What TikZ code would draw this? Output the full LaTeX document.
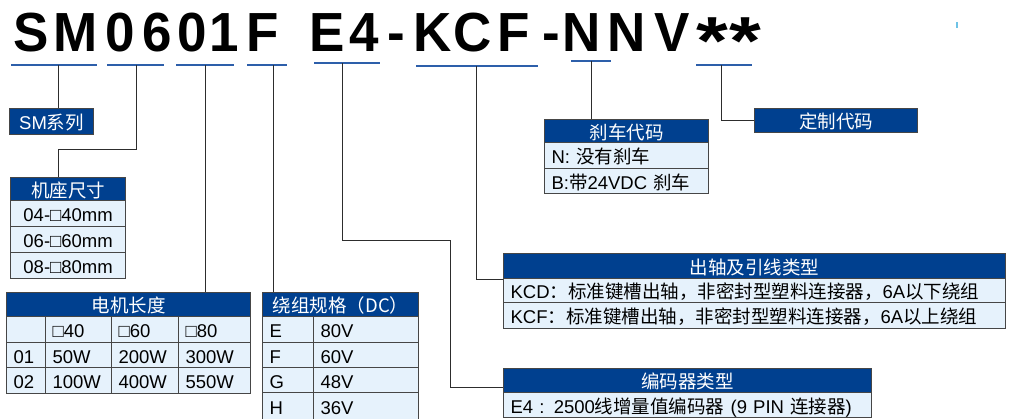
\documentclass[tikz,border=0pt]{standalone}
\usepackage{fontspec}
\setmainfont{Liberation Sans}
\newfontfamily\cjk{Noto Sans CJK SC}
\newcommand\zh[1]{{\cjk #1}}
\definecolor{hdrblue}{RGB}{0,64,143}
\definecolor{cellblue}{RGB}{230,242,252}
\definecolor{bordc}{RGB}{70,70,70}
\definecolor{ulblue}{RGB}{45,95,170}
\definecolor{connc}{RGB}{45,45,45}
\definecolor{tickc}{RGB}{110,195,230}
\begin{document}
\begin{tikzpicture}[x=1pt,y=-1pt,
 base/.style={draw=bordc, line width=1.2pt, anchor=north west, inner ysep=0pt,
   text height=17pt, text depth=1pt, font=\fontsize{18.5}{20}\selectfont},
 hdr/.style={base, fill=hdrblue, text=white, inner xsep=0pt, minimum width=#1,
   font=\cjk\fontsize{18.5}{20}\selectfont},
 solo/.style={base, fill=hdrblue, text=white, inner xsep=0pt, minimum width=#1},
 cl/.style={base, fill=cellblue, text width=#1, align=left, inner xsep=7pt},
 cc/.style={base, fill=cellblue, minimum width=#1, inner xsep=0pt},
 ttl/.style={anchor=base, inner sep=0pt, font=\bfseries\fontsize{53}{53}\selectfont},
 star/.style={anchor=north, inner sep=0pt, font=\bfseries\fontsize{68}{68}\selectfont},
 ul/.style={draw=ulblue, line width=1.5pt},
 conn/.style={draw=connc, line width=1pt}
]
\useasboundingbox (0,0) rectangle (1010,418);

% ---- title ----
\node[ttl] (t1)  at (31.5,51) {\scalebox{1}[1.04]{S}};
\node[ttl] (t2)  at (76,51)   {\scalebox{1}[1.04]{M}};
\node[ttl] (t3)  at (120.5,51){\scalebox{1}[1.04]{0}};
\node[ttl] (t4)  at (157.5,51){\scalebox{1}[1.04]{6}};
\node[ttl] (t5)  at (192.5,51){\scalebox{1}[1.04]{0}};
\node[ttl] (t6)  at (224,51)  {\scalebox{1}[1.04]{1}};
\node[ttl] (t7)  at (263,51)  {\scalebox{1}[1.04]{F}};
\node[ttl] (t8)  at (327.5,51){\scalebox{1}[1.04]{E}};
\node[ttl] (t9)  at (364,51)  {\scalebox{1}[1.04]{4}};
\node[ttl] (t10) at (396.5,51){\scalebox{1}[1.04]{-}};
\node[ttl] (t11) at (432.5,51){\scalebox{1}[1.04]{K}};
\node[ttl] (t12) at (472.5,51){\scalebox{1}[1.04]{C}};
\node[ttl] (t13) at (514,51)  {\scalebox{1}[1.04]{F}};
\node[ttl] (t14) at (551.5,51){\scalebox{1}[1.04]{-}};
\node[ttl] (t15) at (581.5,51){\scalebox{1}[1.04]{N}};
\node[ttl] (t16) at (626.5,51){\scalebox{1}[1.04]{N}};
\node[ttl] (t17) at (672,51)  {\scalebox{1}[1.04]{V}};
\node[star] (t18) at (712,18) {\scalebox{1.2}[1]{*}};
\node[star] (t19) at (745,18) {\scalebox{1.2}[1]{*}};

% small tick
\coordinate (tk1) at (957,22);
\coordinate (tk2) at (957,28);
\draw[draw=tickc, line width=1.5pt] (tk1) -- (tk2);

% ---- underlines ----
\draw[ul] (11,65) -- (97,65);
\draw[ul] (107,65) -- (164,65);
\draw[ul] (176,65) -- (234,65);
\draw[ul] (247,65) -- (287,65);
\draw[ul] (314,63) -- (380,63);
\draw[ul] (416,66) -- (538,66);
\draw[ul] (571,61) -- (611,61);
\draw[ul] (696,65) -- (752,65);
\coordinate (u1) at (58,65);
\coordinate (u2) at (136,65);
\coordinate (u3) at (205,65);
\coordinate (u4) at (273,65);
\coordinate (u5) at (342,63);
\coordinate (u6) at (476,66);
\coordinate (u7) at (591,61);
\coordinate (u8) at (721,65);
\coordinate (b2) at (58,149);
\coordinate (b5) at (450,240);

% ---- SM series ----
\node[solo=84, minimum height=26pt] (sm) at (9,108) {SM\zh{系列}};
% ---- custom code ----
\node[hdr=163, minimum height=24pt] (cust) at (754,108) {定制代码};

% ---- frame size ----
\node[hdr=115, minimum height=23pt] (sz-h) at (10,177) {机座尺寸};
\node[cc=115, minimum height=26pt] (sz-1) at (10,200) {04-□40mm};
\node[cc=115, minimum height=26pt] (sz-2) at (10,226) {06-□60mm};
\node[cc=115, minimum height=26pt] (sz-3) at (10,252) {08-□80mm};

% ---- motor length ----
\node[hdr=244, minimum height=24pt] (ml-h) at (6,292) {电机长度};
\node[cl=25, minimum height=26pt] (ml-00) at (6,316) {};
\node[cl=52, minimum height=26pt] (ml-01) at (45,316) {□40};
\node[cl=53, minimum height=26pt] (ml-02) at (111,316) {□60};
\node[cl=58, minimum height=26pt] (ml-03) at (178,316) {□80};
\node[cl=25, minimum height=25pt] (ml-10) at (6,342) {01};
\node[cl=52, minimum height=25pt] (ml-11) at (45,342) {50W};
\node[cl=53, minimum height=25pt] (ml-12) at (111,342) {200W};
\node[cl=58, minimum height=25pt] (ml-13) at (178,342) {300W};
\node[cl=25, minimum height=26pt] (ml-20) at (6,367) {02};
\node[cl=52, minimum height=26pt] (ml-21) at (45,367) {100W};
\node[cl=53, minimum height=26pt] (ml-22) at (111,367) {400W};
\node[cl=58, minimum height=26pt] (ml-23) at (178,367) {550W};

% ---- winding ----
\node[hdr=156, minimum height=24pt] (wd-h) at (262,292) {绕组规格（DC）};
\node[cl=37, minimum height=26pt] (wd-10) at (262,316) {E};
\node[cl=91, minimum height=26pt] (wd-11) at (313,316) {80V};
\node[cl=37, minimum height=25pt] (wd-20) at (262,342) {F};
\node[cl=91, minimum height=25pt] (wd-21) at (313,342) {60V};
\node[cl=37, minimum height=25pt] (wd-30) at (262,367) {G};
\node[cl=91, minimum height=25pt] (wd-31) at (313,367) {48V};
\node[cl=37, minimum height=28pt] (wd-40) at (262,392) {H};
\node[cl=91, minimum height=28pt] (wd-41) at (313,392) {36V};

% ---- brake ----
\node[hdr=164, minimum height=23pt] (brk-h) at (544,119) {刹车代码};
\node[cl=150, minimum height=26pt] (brk-1) at (544,142) {N: \zh{没有刹车}};
\node[cl=150, minimum height=25pt] (brk-2) at (544,168) {B:\zh{带}24VDC \zh{刹车}};

% ---- shaft ----
\node[hdr=502, minimum height=25pt] (sh-h) at (503,253) {出轴及引线类型};
\node[cl=488, minimum height=24pt] (sh-1) at (503,278) {KCD\zh{：标准键槽出轴，非密封型塑料连接器，}6A\zh{以下绕组}};
\node[cl=488, minimum height=26pt] (sh-2) at (503,302) {KCF\zh{：标准键槽出轴，非密封型塑料连接器，}6A\zh{以上绕组}};

% ---- encoder ----
\node[hdr=368, minimum height=24pt] (enc-h) at (503,368) {编码器类型};
\node[cl=354, minimum height=25pt] (enc-1) at (503,392) {E4 : 2500\zh{线增量值编码器} (9 PIN \zh{连接器})};

% ---- connectors ----
\draw[conn] (u1) -- (u1 |- sm.north);
\draw[conn] (u2) |- (b2) -- (b2 |- sz-h.north);
\draw[conn] (u3) -- (u3 |- ml-h.north);
\draw[conn] (u4) -- (u4 |- wd-h.north);
\draw[conn] (u5) |- (b5) |- ([yshift=-7pt]enc-h.west);
\draw[conn] (u6) |- (sh-h.south west);
\draw[conn] (u7) -- (u7 |- brk-h.north);
\draw[conn] (u8) |- (cust.west);
\end{tikzpicture}
\end{document}
